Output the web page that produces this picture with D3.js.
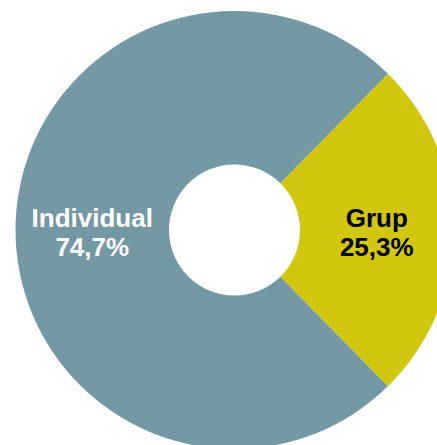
<!DOCTYPE html>
<html>
<head>
<meta charset="utf-8">
<script src="https://cdn.jsdelivr.net/npm/d3@7"></script>
<style>
  html, body { margin: 0; padding: 0; background: #fff; }
  svg { display: block; }
</style>
</head>
<body>
<div id="chart"></div>
<script>
const width = 437
const height = 445

// data
const categories = ['Grup', 'Individual']
const values = [25.3, 74.7]
const labels = ['25,3%', '74,7%']
const colors = ['#d1c70e', '#7599a4']
const textColors = ['#000000', '#ffffff']

const cx = 234.5
const cy = 230
const outerR = 219
const innerR = 65.5

let svg = d3.select('#chart')
    .append('svg')
    .attr('width', width)
    .attr('height', height)

let g = svg.append('g')
    .attr('transform', `translate(${cx},${cy})`)

// yellow slice centred on the right-hand side
let startAngle = Math.PI / 2 - (values[0] / 100) * Math.PI
let pie = d3.pie()
    .sort(null)
    .value(d => d)
    .startAngle(startAngle)
    .endAngle(startAngle + 2 * Math.PI)

let arc = d3.arc()
    .innerRadius(innerR)
    .outerRadius(outerR)

let arcs = pie(values)

g.selectAll('path')
    .data(arcs)
    .join('path')
    .attr('d', arc)
    .attr('fill', (d, i) => colors[i])

let label = g.selectAll('text')
    .data(arcs)
    .join('text')
    .attr('transform', d => `translate(${arc.centroid(d)})`)
    .attr('text-anchor', 'middle')
    .attr('font-family', 'Liberation Sans, Arial, sans-serif')
    .attr('font-weight', 'bold')
    .attr('font-size', 26)
    .attr('fill', (d, i) => textColors[i])

label.append('tspan')
    .attr('x', 0)
    .attr('y', -3)
    .text((d, i) => categories[i])

label.append('tspan')
    .attr('x', 0)
    .attr('y', 26)
    .text((d, i) => labels[i])
</script>
</body>
</html>
